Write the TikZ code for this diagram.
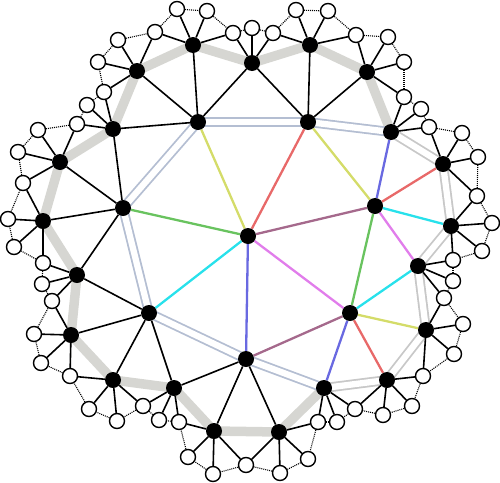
\documentclass[tikz,border=0pt]{standalone}
\usetikzlibrary{backgrounds}
\definecolor{cyel}{RGB}{212,220,105}
\definecolor{cred}{RGB}{232,105,105}
\definecolor{cmauve}{RGB}{165,105,140}
\definecolor{cmag}{RGB}{225,125,235}
\definecolor{cblue}{RGB}{105,105,225}
\definecolor{ccyan}{RGB}{40,225,235}
\definecolor{cgreen}{RGB}{105,195,95}
\definecolor{dblue}{RGB}{180,190,210}
\definecolor{dgray}{RGB}{200,200,200}
\definecolor{bandgray}{RGB}{214,214,210}
\tikzset{
  bnode/.style={circle,fill=black,inner sep=0pt,minimum size=16pt},
  wnode/.style={circle,draw=black,fill=white,line width=1.4pt,inner sep=0pt,minimum size=15pt},
  bedge/.style={draw=black,line width=1.6pt},
  cedge/.style={draw=#1,line width=2.3pt},
  dbl/.style={draw=#1,line width=1.8pt,double=white,double distance=6.3pt},
  band/.style={draw=bandgray,line width=9.5pt,line join=round,line cap=round},
  dotline/.style={draw=black,line width=1.1pt,dash pattern=on 1pt off 1pt}
}
\begin{document}
\begin{tikzpicture}[x=1pt,y=-1pt]
\useasboundingbox (0,0) rectangle (500,482);
% center and inner ring
\node[bnode] (C) at (248,236) {};
\foreach \n/\x/\y in {1/198/122,2/308/122,3/375/206,4/350/313,5/246/359,6/149/313,7/123/208}
  \node[bnode] (A\n) at (\x,\y) {};
% outer black ring
\foreach \n/\x/\y in {1/60/162,2/113/129,3/137/71,4/193/45,5/252/63,6/310/45,7/367/72,
  8/391/132,9/443/164,10/451/226,11/418/266,12/426/330,13/387/380,14/324/388,
  15/279/432,16/214/431,17/174/388,18/113/380,19/71/335,20/77/275,21/43/221}
  \node[bnode] (O\n) at (\x,\y) {};
% white nodes
\foreach \n/\x/\y in {1/155/32,2/177/9,3/207/11,4/233/33,5/252/28,6/273/33,7/296/10,8/328/11,
  9/356/35,10/388/37,11/404/62,12/404/97,13/421/109,14/429/127,15/462/133,16/478/157,
  17/477/196,18/492/223,19/482/251,20/453/260,21/453/281,22/444/298,23/463/324,24/454/354,
  25/423/376,26/412/406,27/383/415,28/355/409,29/337/422,30/318/422,31/308/459,32/280/473,
  33/246/465,34/213/474,35/188/457,36/179/422,37/159/420,38/143/406,39/117/421,40/89/409,
  41/70/376,42/41/363,43/34/334,44/52/301,45/42/284,46/43/263,47/14/247,48/8/219,
  49/23/183,50/18/152,51/38/130,52/77/124,53/87/105,54/104/92,55/98/62,56/118/40}
  \node[wnode] (w\n) at (\x,\y) {};
\begin{scope}[on background layer]
% thick gray band
\draw[band] (O14.center) -- (O15.center) -- (O16.center) -- (O17.center) -- (O18.center)
  -- (O19.center) -- (O20.center) -- (O21.center) -- (O1.center) -- (O2.center)
  -- (O3.center) -- (O4.center) -- (O5.center) -- (O6.center) -- (O7.center) -- (O8.center);
% double lines
\foreach \a/\b in {A1/A2,A2/O8,A1/A7,A7/A6,A6/A5,A5/O14}
  \draw[dbl=dblue] (\a.center) -- (\b.center);
\foreach \a/\b in {O8/O9,O9/O10,O10/O11,O11/O12,O12/O13,O13/O14}
  \draw[dbl=dgray] (\a.center) -- (\b.center);
% coloured edges
\draw[cedge=cyel] (C) -- (A1);
\draw[cedge=cred] (C) -- (A2);
\draw[cedge=cmauve] (C) -- (A3);
\draw[cedge=cmag] (C) -- (A4);
\draw[cedge=cblue] (C) -- (A5);
\draw[cedge=ccyan] (C) -- (A6);
\draw[cedge=cgreen] (C) -- (A7);
\draw[cedge=cyel] (A3) -- (A2);
\draw[cedge=cblue] (A3) -- (O8);
\draw[cedge=cred] (A3) -- (O9);
\draw[cedge=ccyan] (A3) -- (O10);
\draw[cedge=cmag] (A3) -- (O11);
\draw[cedge=cgreen] (A3) -- (A4);
\draw[cedge=ccyan] (A4) -- (O11);
\draw[cedge=cyel] (A4) -- (O12);
\draw[cedge=cred] (A4) -- (O13);
\draw[cedge=cblue] (A4) -- (O14);
\draw[cedge=cmauve] (A4) -- (A5);
% black edges inner to outer
\foreach \a/\b in {A1/O2,A1/O3,A1/O4,A1/O5,A2/O5,A2/O6,A2/O7,A5/O15,A5/O16,A5/O17,
  A6/O17,A6/O18,A6/O19,A6/O20,A7/O20,A7/O21,A7/O1,A7/O2}
  \draw[bedge] (\a) -- (\b);
% black edges outer to white
\foreach \o/\w in {1/49,1/50,1/51,1/52, 2/52,2/53,2/54, 3/54,3/55,3/56,3/1, 4/1,4/2,4/3,4/4,
  5/4,5/5,5/6, 6/6,6/7,6/8,6/9, 7/9,7/10,7/11,7/12, 8/12,8/13,8/14, 9/14,9/15,9/16,9/17,
  10/17,10/18,10/19,10/20, 11/20,11/21,11/22, 12/22,12/23,12/24,12/25, 13/25,13/26,13/27,13/28,
  14/28,14/29,14/30, 15/30,15/31,15/32,15/33, 16/33,16/34,16/35,16/36, 17/36,17/37,17/38,
  18/38,18/39,18/40,18/41, 19/41,19/42,19/43,19/44, 20/44,20/45,20/46, 21/46,21/47,21/48,21/49}
  \draw[bedge] (O\o) -- (w\w);
% dotted chain of white nodes
\foreach \i in {1,...,55}{
  \pgfmathtruncatemacro\j{\i+1}
  \draw[dotline] (w\i) -- (w\j);
}
\draw[dotline] (w56) -- (w1);
\end{scope}
\end{tikzpicture}
\end{document}
